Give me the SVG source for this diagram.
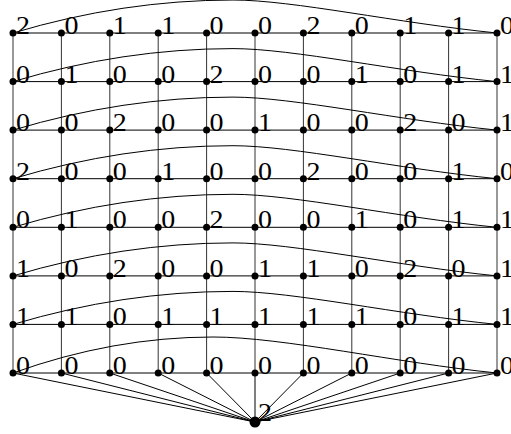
<svg xmlns="http://www.w3.org/2000/svg" width="511" height="434" viewBox="0 0 511 434">
<style>
.e{stroke:#000;stroke-width:1;fill:none}
.v{stroke:#333;stroke-width:1;fill:none}
.d{fill:#000}
.t{font-family:"Liberation Serif",serif;font-size:25px;fill:#000}
</style>
<rect width="511" height="434" fill="#fff"/>
<g id="connectors">
<g id="verticals">
<line class="v" x1="13" y1="33" x2="13" y2="373"/>
<line class="v" x1="61.4" y1="33" x2="61.4" y2="373"/>
<line class="v" x1="109.8" y1="33" x2="109.8" y2="373"/>
<line class="v" x1="158.2" y1="33" x2="158.2" y2="373"/>
<line class="v" x1="206.6" y1="33" x2="206.6" y2="373"/>
<line class="v" x1="255" y1="33" x2="255" y2="373"/>
<line class="v" x1="303.4" y1="33" x2="303.4" y2="373"/>
<line class="v" x1="351.8" y1="33" x2="351.8" y2="373"/>
<line class="v" x1="400.2" y1="33" x2="400.2" y2="373"/>
<line class="v" x1="448.6" y1="33" x2="448.6" y2="373"/>
<line class="v" x1="497" y1="33" x2="497" y2="373"/>
</g>
<g id="horizontals">
<line class="e" x1="13" y1="33" x2="497" y2="33"/>
<line class="e" x1="13" y1="81.6" x2="497" y2="81.6"/>
<line class="e" x1="13" y1="130.1" x2="497" y2="130.1"/>
<line class="e" x1="13" y1="178.7" x2="497" y2="178.7"/>
<line class="e" x1="13" y1="227.3" x2="497" y2="227.3"/>
<line class="e" x1="13" y1="275.9" x2="497" y2="275.9"/>
<line class="e" x1="13" y1="324.4" x2="497" y2="324.4"/>
<line class="e" x1="13" y1="373" x2="497" y2="373"/>
</g>
<g id="arcs">
<path class="e" d="M13 33Q123 0 233 0C293 0 397 23 497 33"/>
<path class="e" d="M13 81.6Q123 48.6 233 48.6C293 48.6 397 71.6 497 81.6"/>
<path class="e" d="M13 130.1Q123 97.1 233 97.1C293 97.1 397 120.1 497 130.1"/>
<path class="e" d="M13 178.7Q123 145.7 233 145.7C293 145.7 397 168.7 497 178.7"/>
<path class="e" d="M13 227.3Q123 194.3 233 194.3C293 194.3 397 217.3 497 227.3"/>
<path class="e" d="M13 275.9Q123 242.9 233 242.9C293 242.9 397 265.9 497 275.9"/>
<path class="e" d="M13 324.4Q123 291.4 233 291.4C293 291.4 397 314.4 497 324.4"/>
<path class="e" d="M13 373Q113 337 213 337C283 337 397 363 497 373"/>
</g>
<g id="fan">
<line class="e" x1="13" y1="373" x2="255" y2="422"/>
<line class="e" x1="61.4" y1="373" x2="255" y2="422"/>
<line class="e" x1="109.8" y1="373" x2="255" y2="422"/>
<line class="e" x1="158.2" y1="373" x2="255" y2="422"/>
<line class="e" x1="206.6" y1="373" x2="255" y2="422"/>
<line class="e" x1="255" y1="373" x2="255" y2="422"/>
<line class="e" x1="303.4" y1="373" x2="255" y2="422"/>
<line class="e" x1="351.8" y1="373" x2="255" y2="422"/>
<line class="e" x1="400.2" y1="373" x2="255" y2="422"/>
<line class="e" x1="448.6" y1="373" x2="255" y2="422"/>
<line class="e" x1="497" y1="373" x2="255" y2="422"/>
</g>
</g>
<g id="nodes">
<g id="n1-1"><circle class="d" cx="13" cy="33" r="3.5"/><text class="t" x="16" y="34" textLength="14" lengthAdjust="spacingAndGlyphs">2</text></g>
<g id="n1-2"><circle class="d" cx="61.4" cy="33" r="3.5"/><text class="t" x="64.4" y="34" textLength="14" lengthAdjust="spacingAndGlyphs">0</text></g>
<g id="n1-3"><circle class="d" cx="109.8" cy="33" r="3.5"/><text class="t" x="112.8" y="34" textLength="14" lengthAdjust="spacingAndGlyphs">1</text></g>
<g id="n1-4"><circle class="d" cx="158.2" cy="33" r="3.5"/><text class="t" x="161.2" y="34" textLength="14" lengthAdjust="spacingAndGlyphs">1</text></g>
<g id="n1-5"><circle class="d" cx="206.6" cy="33" r="3.5"/><text class="t" x="209.6" y="34" textLength="14" lengthAdjust="spacingAndGlyphs">0</text></g>
<g id="n1-6"><circle class="d" cx="255" cy="33" r="3.5"/><text class="t" x="258" y="34" textLength="14" lengthAdjust="spacingAndGlyphs">0</text></g>
<g id="n1-7"><circle class="d" cx="303.4" cy="33" r="3.5"/><text class="t" x="306.4" y="34" textLength="14" lengthAdjust="spacingAndGlyphs">2</text></g>
<g id="n1-8"><circle class="d" cx="351.8" cy="33" r="3.5"/><text class="t" x="354.8" y="34" textLength="14" lengthAdjust="spacingAndGlyphs">0</text></g>
<g id="n1-9"><circle class="d" cx="400.2" cy="33" r="3.5"/><text class="t" x="403.2" y="34" textLength="14" lengthAdjust="spacingAndGlyphs">1</text></g>
<g id="n1-10"><circle class="d" cx="448.6" cy="33" r="3.5"/><text class="t" x="451.6" y="34" textLength="14" lengthAdjust="spacingAndGlyphs">1</text></g>
<g id="n1-11"><circle class="d" cx="497" cy="33" r="3.5"/><text class="t" x="500" y="34" textLength="14" lengthAdjust="spacingAndGlyphs">0</text></g>

<g id="n2-1"><circle class="d" cx="13" cy="81.6" r="3.5"/><text class="t" x="16" y="82.6" textLength="14" lengthAdjust="spacingAndGlyphs">0</text></g>
<g id="n2-2"><circle class="d" cx="61.4" cy="81.6" r="3.5"/><text class="t" x="64.4" y="82.6" textLength="14" lengthAdjust="spacingAndGlyphs">1</text></g>
<g id="n2-3"><circle class="d" cx="109.8" cy="81.6" r="3.5"/><text class="t" x="112.8" y="82.6" textLength="14" lengthAdjust="spacingAndGlyphs">0</text></g>
<g id="n2-4"><circle class="d" cx="158.2" cy="81.6" r="3.5"/><text class="t" x="161.2" y="82.6" textLength="14" lengthAdjust="spacingAndGlyphs">0</text></g>
<g id="n2-5"><circle class="d" cx="206.6" cy="81.6" r="3.5"/><text class="t" x="209.6" y="82.6" textLength="14" lengthAdjust="spacingAndGlyphs">2</text></g>
<g id="n2-6"><circle class="d" cx="255" cy="81.6" r="3.5"/><text class="t" x="258" y="82.6" textLength="14" lengthAdjust="spacingAndGlyphs">0</text></g>
<g id="n2-7"><circle class="d" cx="303.4" cy="81.6" r="3.5"/><text class="t" x="306.4" y="82.6" textLength="14" lengthAdjust="spacingAndGlyphs">0</text></g>
<g id="n2-8"><circle class="d" cx="351.8" cy="81.6" r="3.5"/><text class="t" x="354.8" y="82.6" textLength="14" lengthAdjust="spacingAndGlyphs">1</text></g>
<g id="n2-9"><circle class="d" cx="400.2" cy="81.6" r="3.5"/><text class="t" x="403.2" y="82.6" textLength="14" lengthAdjust="spacingAndGlyphs">0</text></g>
<g id="n2-10"><circle class="d" cx="448.6" cy="81.6" r="3.5"/><text class="t" x="451.6" y="82.6" textLength="14" lengthAdjust="spacingAndGlyphs">1</text></g>
<g id="n2-11"><circle class="d" cx="497" cy="81.6" r="3.5"/><text class="t" x="500" y="82.6" textLength="14" lengthAdjust="spacingAndGlyphs">1</text></g>

<g id="n3-1"><circle class="d" cx="13" cy="130.1" r="3.5"/><text class="t" x="16" y="131.1" textLength="14" lengthAdjust="spacingAndGlyphs">0</text></g>
<g id="n3-2"><circle class="d" cx="61.4" cy="130.1" r="3.5"/><text class="t" x="64.4" y="131.1" textLength="14" lengthAdjust="spacingAndGlyphs">0</text></g>
<g id="n3-3"><circle class="d" cx="109.8" cy="130.1" r="3.5"/><text class="t" x="112.8" y="131.1" textLength="14" lengthAdjust="spacingAndGlyphs">2</text></g>
<g id="n3-4"><circle class="d" cx="158.2" cy="130.1" r="3.5"/><text class="t" x="161.2" y="131.1" textLength="14" lengthAdjust="spacingAndGlyphs">0</text></g>
<g id="n3-5"><circle class="d" cx="206.6" cy="130.1" r="3.5"/><text class="t" x="209.6" y="131.1" textLength="14" lengthAdjust="spacingAndGlyphs">0</text></g>
<g id="n3-6"><circle class="d" cx="255" cy="130.1" r="3.5"/><text class="t" x="258" y="131.1" textLength="14" lengthAdjust="spacingAndGlyphs">1</text></g>
<g id="n3-7"><circle class="d" cx="303.4" cy="130.1" r="3.5"/><text class="t" x="306.4" y="131.1" textLength="14" lengthAdjust="spacingAndGlyphs">0</text></g>
<g id="n3-8"><circle class="d" cx="351.8" cy="130.1" r="3.5"/><text class="t" x="354.8" y="131.1" textLength="14" lengthAdjust="spacingAndGlyphs">0</text></g>
<g id="n3-9"><circle class="d" cx="400.2" cy="130.1" r="3.5"/><text class="t" x="403.2" y="131.1" textLength="14" lengthAdjust="spacingAndGlyphs">2</text></g>
<g id="n3-10"><circle class="d" cx="448.6" cy="130.1" r="3.5"/><text class="t" x="451.6" y="131.1" textLength="14" lengthAdjust="spacingAndGlyphs">0</text></g>
<g id="n3-11"><circle class="d" cx="497" cy="130.1" r="3.5"/><text class="t" x="500" y="131.1" textLength="14" lengthAdjust="spacingAndGlyphs">1</text></g>

<g id="n4-1"><circle class="d" cx="13" cy="178.7" r="3.5"/><text class="t" x="16" y="179.7" textLength="14" lengthAdjust="spacingAndGlyphs">2</text></g>
<g id="n4-2"><circle class="d" cx="61.4" cy="178.7" r="3.5"/><text class="t" x="64.4" y="179.7" textLength="14" lengthAdjust="spacingAndGlyphs">0</text></g>
<g id="n4-3"><circle class="d" cx="109.8" cy="178.7" r="3.5"/><text class="t" x="112.8" y="179.7" textLength="14" lengthAdjust="spacingAndGlyphs">0</text></g>
<g id="n4-4"><circle class="d" cx="158.2" cy="178.7" r="3.5"/><text class="t" x="161.2" y="179.7" textLength="14" lengthAdjust="spacingAndGlyphs">1</text></g>
<g id="n4-5"><circle class="d" cx="206.6" cy="178.7" r="3.5"/><text class="t" x="209.6" y="179.7" textLength="14" lengthAdjust="spacingAndGlyphs">0</text></g>
<g id="n4-6"><circle class="d" cx="255" cy="178.7" r="3.5"/><text class="t" x="258" y="179.7" textLength="14" lengthAdjust="spacingAndGlyphs">0</text></g>
<g id="n4-7"><circle class="d" cx="303.4" cy="178.7" r="3.5"/><text class="t" x="306.4" y="179.7" textLength="14" lengthAdjust="spacingAndGlyphs">2</text></g>
<g id="n4-8"><circle class="d" cx="351.8" cy="178.7" r="3.5"/><text class="t" x="354.8" y="179.7" textLength="14" lengthAdjust="spacingAndGlyphs">0</text></g>
<g id="n4-9"><circle class="d" cx="400.2" cy="178.7" r="3.5"/><text class="t" x="403.2" y="179.7" textLength="14" lengthAdjust="spacingAndGlyphs">0</text></g>
<g id="n4-10"><circle class="d" cx="448.6" cy="178.7" r="3.5"/><text class="t" x="451.6" y="179.7" textLength="14" lengthAdjust="spacingAndGlyphs">1</text></g>
<g id="n4-11"><circle class="d" cx="497" cy="178.7" r="3.5"/><text class="t" x="500" y="179.7" textLength="14" lengthAdjust="spacingAndGlyphs">0</text></g>

<g id="n5-1"><circle class="d" cx="13" cy="227.3" r="3.5"/><text class="t" x="16" y="228.3" textLength="14" lengthAdjust="spacingAndGlyphs">0</text></g>
<g id="n5-2"><circle class="d" cx="61.4" cy="227.3" r="3.5"/><text class="t" x="64.4" y="228.3" textLength="14" lengthAdjust="spacingAndGlyphs">1</text></g>
<g id="n5-3"><circle class="d" cx="109.8" cy="227.3" r="3.5"/><text class="t" x="112.8" y="228.3" textLength="14" lengthAdjust="spacingAndGlyphs">0</text></g>
<g id="n5-4"><circle class="d" cx="158.2" cy="227.3" r="3.5"/><text class="t" x="161.2" y="228.3" textLength="14" lengthAdjust="spacingAndGlyphs">0</text></g>
<g id="n5-5"><circle class="d" cx="206.6" cy="227.3" r="3.5"/><text class="t" x="209.6" y="228.3" textLength="14" lengthAdjust="spacingAndGlyphs">2</text></g>
<g id="n5-6"><circle class="d" cx="255" cy="227.3" r="3.5"/><text class="t" x="258" y="228.3" textLength="14" lengthAdjust="spacingAndGlyphs">0</text></g>
<g id="n5-7"><circle class="d" cx="303.4" cy="227.3" r="3.5"/><text class="t" x="306.4" y="228.3" textLength="14" lengthAdjust="spacingAndGlyphs">0</text></g>
<g id="n5-8"><circle class="d" cx="351.8" cy="227.3" r="3.5"/><text class="t" x="354.8" y="228.3" textLength="14" lengthAdjust="spacingAndGlyphs">1</text></g>
<g id="n5-9"><circle class="d" cx="400.2" cy="227.3" r="3.5"/><text class="t" x="403.2" y="228.3" textLength="14" lengthAdjust="spacingAndGlyphs">0</text></g>
<g id="n5-10"><circle class="d" cx="448.6" cy="227.3" r="3.5"/><text class="t" x="451.6" y="228.3" textLength="14" lengthAdjust="spacingAndGlyphs">1</text></g>
<g id="n5-11"><circle class="d" cx="497" cy="227.3" r="3.5"/><text class="t" x="500" y="228.3" textLength="14" lengthAdjust="spacingAndGlyphs">1</text></g>

<g id="n6-1"><circle class="d" cx="13" cy="275.9" r="3.5"/><text class="t" x="16" y="276.9" textLength="14" lengthAdjust="spacingAndGlyphs">1</text></g>
<g id="n6-2"><circle class="d" cx="61.4" cy="275.9" r="3.5"/><text class="t" x="64.4" y="276.9" textLength="14" lengthAdjust="spacingAndGlyphs">0</text></g>
<g id="n6-3"><circle class="d" cx="109.8" cy="275.9" r="3.5"/><text class="t" x="112.8" y="276.9" textLength="14" lengthAdjust="spacingAndGlyphs">2</text></g>
<g id="n6-4"><circle class="d" cx="158.2" cy="275.9" r="3.5"/><text class="t" x="161.2" y="276.9" textLength="14" lengthAdjust="spacingAndGlyphs">0</text></g>
<g id="n6-5"><circle class="d" cx="206.6" cy="275.9" r="3.5"/><text class="t" x="209.6" y="276.9" textLength="14" lengthAdjust="spacingAndGlyphs">0</text></g>
<g id="n6-6"><circle class="d" cx="255" cy="275.9" r="3.5"/><text class="t" x="258" y="276.9" textLength="14" lengthAdjust="spacingAndGlyphs">1</text></g>
<g id="n6-7"><circle class="d" cx="303.4" cy="275.9" r="3.5"/><text class="t" x="306.4" y="276.9" textLength="14" lengthAdjust="spacingAndGlyphs">1</text></g>
<g id="n6-8"><circle class="d" cx="351.8" cy="275.9" r="3.5"/><text class="t" x="354.8" y="276.9" textLength="14" lengthAdjust="spacingAndGlyphs">0</text></g>
<g id="n6-9"><circle class="d" cx="400.2" cy="275.9" r="3.5"/><text class="t" x="403.2" y="276.9" textLength="14" lengthAdjust="spacingAndGlyphs">2</text></g>
<g id="n6-10"><circle class="d" cx="448.6" cy="275.9" r="3.5"/><text class="t" x="451.6" y="276.9" textLength="14" lengthAdjust="spacingAndGlyphs">0</text></g>
<g id="n6-11"><circle class="d" cx="497" cy="275.9" r="3.5"/><text class="t" x="500" y="276.9" textLength="14" lengthAdjust="spacingAndGlyphs">1</text></g>

<g id="n7-1"><circle class="d" cx="13" cy="324.4" r="3.5"/><text class="t" x="16" y="325.4" textLength="14" lengthAdjust="spacingAndGlyphs">1</text></g>
<g id="n7-2"><circle class="d" cx="61.4" cy="324.4" r="3.5"/><text class="t" x="64.4" y="325.4" textLength="14" lengthAdjust="spacingAndGlyphs">1</text></g>
<g id="n7-3"><circle class="d" cx="109.8" cy="324.4" r="3.5"/><text class="t" x="112.8" y="325.4" textLength="14" lengthAdjust="spacingAndGlyphs">0</text></g>
<g id="n7-4"><circle class="d" cx="158.2" cy="324.4" r="3.5"/><text class="t" x="161.2" y="325.4" textLength="14" lengthAdjust="spacingAndGlyphs">1</text></g>
<g id="n7-5"><circle class="d" cx="206.6" cy="324.4" r="3.5"/><text class="t" x="209.6" y="325.4" textLength="14" lengthAdjust="spacingAndGlyphs">1</text></g>
<g id="n7-6"><circle class="d" cx="255" cy="324.4" r="3.5"/><text class="t" x="258" y="325.4" textLength="14" lengthAdjust="spacingAndGlyphs">1</text></g>
<g id="n7-7"><circle class="d" cx="303.4" cy="324.4" r="3.5"/><text class="t" x="306.4" y="325.4" textLength="14" lengthAdjust="spacingAndGlyphs">1</text></g>
<g id="n7-8"><circle class="d" cx="351.8" cy="324.4" r="3.5"/><text class="t" x="354.8" y="325.4" textLength="14" lengthAdjust="spacingAndGlyphs">1</text></g>
<g id="n7-9"><circle class="d" cx="400.2" cy="324.4" r="3.5"/><text class="t" x="403.2" y="325.4" textLength="14" lengthAdjust="spacingAndGlyphs">0</text></g>
<g id="n7-10"><circle class="d" cx="448.6" cy="324.4" r="3.5"/><text class="t" x="451.6" y="325.4" textLength="14" lengthAdjust="spacingAndGlyphs">1</text></g>
<g id="n7-11"><circle class="d" cx="497" cy="324.4" r="3.5"/><text class="t" x="500" y="325.4" textLength="14" lengthAdjust="spacingAndGlyphs">1</text></g>

<g id="n8-1"><circle class="d" cx="13" cy="373" r="3.5"/><text class="t" x="16" y="374" textLength="14" lengthAdjust="spacingAndGlyphs">0</text></g>
<g id="n8-2"><circle class="d" cx="61.4" cy="373" r="3.5"/><text class="t" x="64.4" y="374" textLength="14" lengthAdjust="spacingAndGlyphs">0</text></g>
<g id="n8-3"><circle class="d" cx="109.8" cy="373" r="3.5"/><text class="t" x="112.8" y="374" textLength="14" lengthAdjust="spacingAndGlyphs">0</text></g>
<g id="n8-4"><circle class="d" cx="158.2" cy="373" r="3.5"/><text class="t" x="161.2" y="374" textLength="14" lengthAdjust="spacingAndGlyphs">0</text></g>
<g id="n8-5"><circle class="d" cx="206.6" cy="373" r="3.5"/><text class="t" x="209.6" y="374" textLength="14" lengthAdjust="spacingAndGlyphs">0</text></g>
<g id="n8-6"><circle class="d" cx="255" cy="373" r="3.5"/><text class="t" x="258" y="374" textLength="14" lengthAdjust="spacingAndGlyphs">0</text></g>
<g id="n8-7"><circle class="d" cx="303.4" cy="373" r="3.5"/><text class="t" x="306.4" y="374" textLength="14" lengthAdjust="spacingAndGlyphs">0</text></g>
<g id="n8-8"><circle class="d" cx="351.8" cy="373" r="3.5"/><text class="t" x="354.8" y="374" textLength="14" lengthAdjust="spacingAndGlyphs">0</text></g>
<g id="n8-9"><circle class="d" cx="400.2" cy="373" r="3.5"/><text class="t" x="403.2" y="374" textLength="14" lengthAdjust="spacingAndGlyphs">0</text></g>
<g id="n8-10"><circle class="d" cx="448.6" cy="373" r="3.5"/><text class="t" x="451.6" y="374" textLength="14" lengthAdjust="spacingAndGlyphs">0</text></g>
<g id="n8-11"><circle class="d" cx="497" cy="373" r="3.5"/><text class="t" x="500" y="374" textLength="14" lengthAdjust="spacingAndGlyphs">0</text></g>

<g id="sink"><circle class="d" cx="255" cy="422" r="5.5"/><text class="t" x="258" y="421" textLength="14" lengthAdjust="spacingAndGlyphs">2</text></g>
</g>
</svg>
